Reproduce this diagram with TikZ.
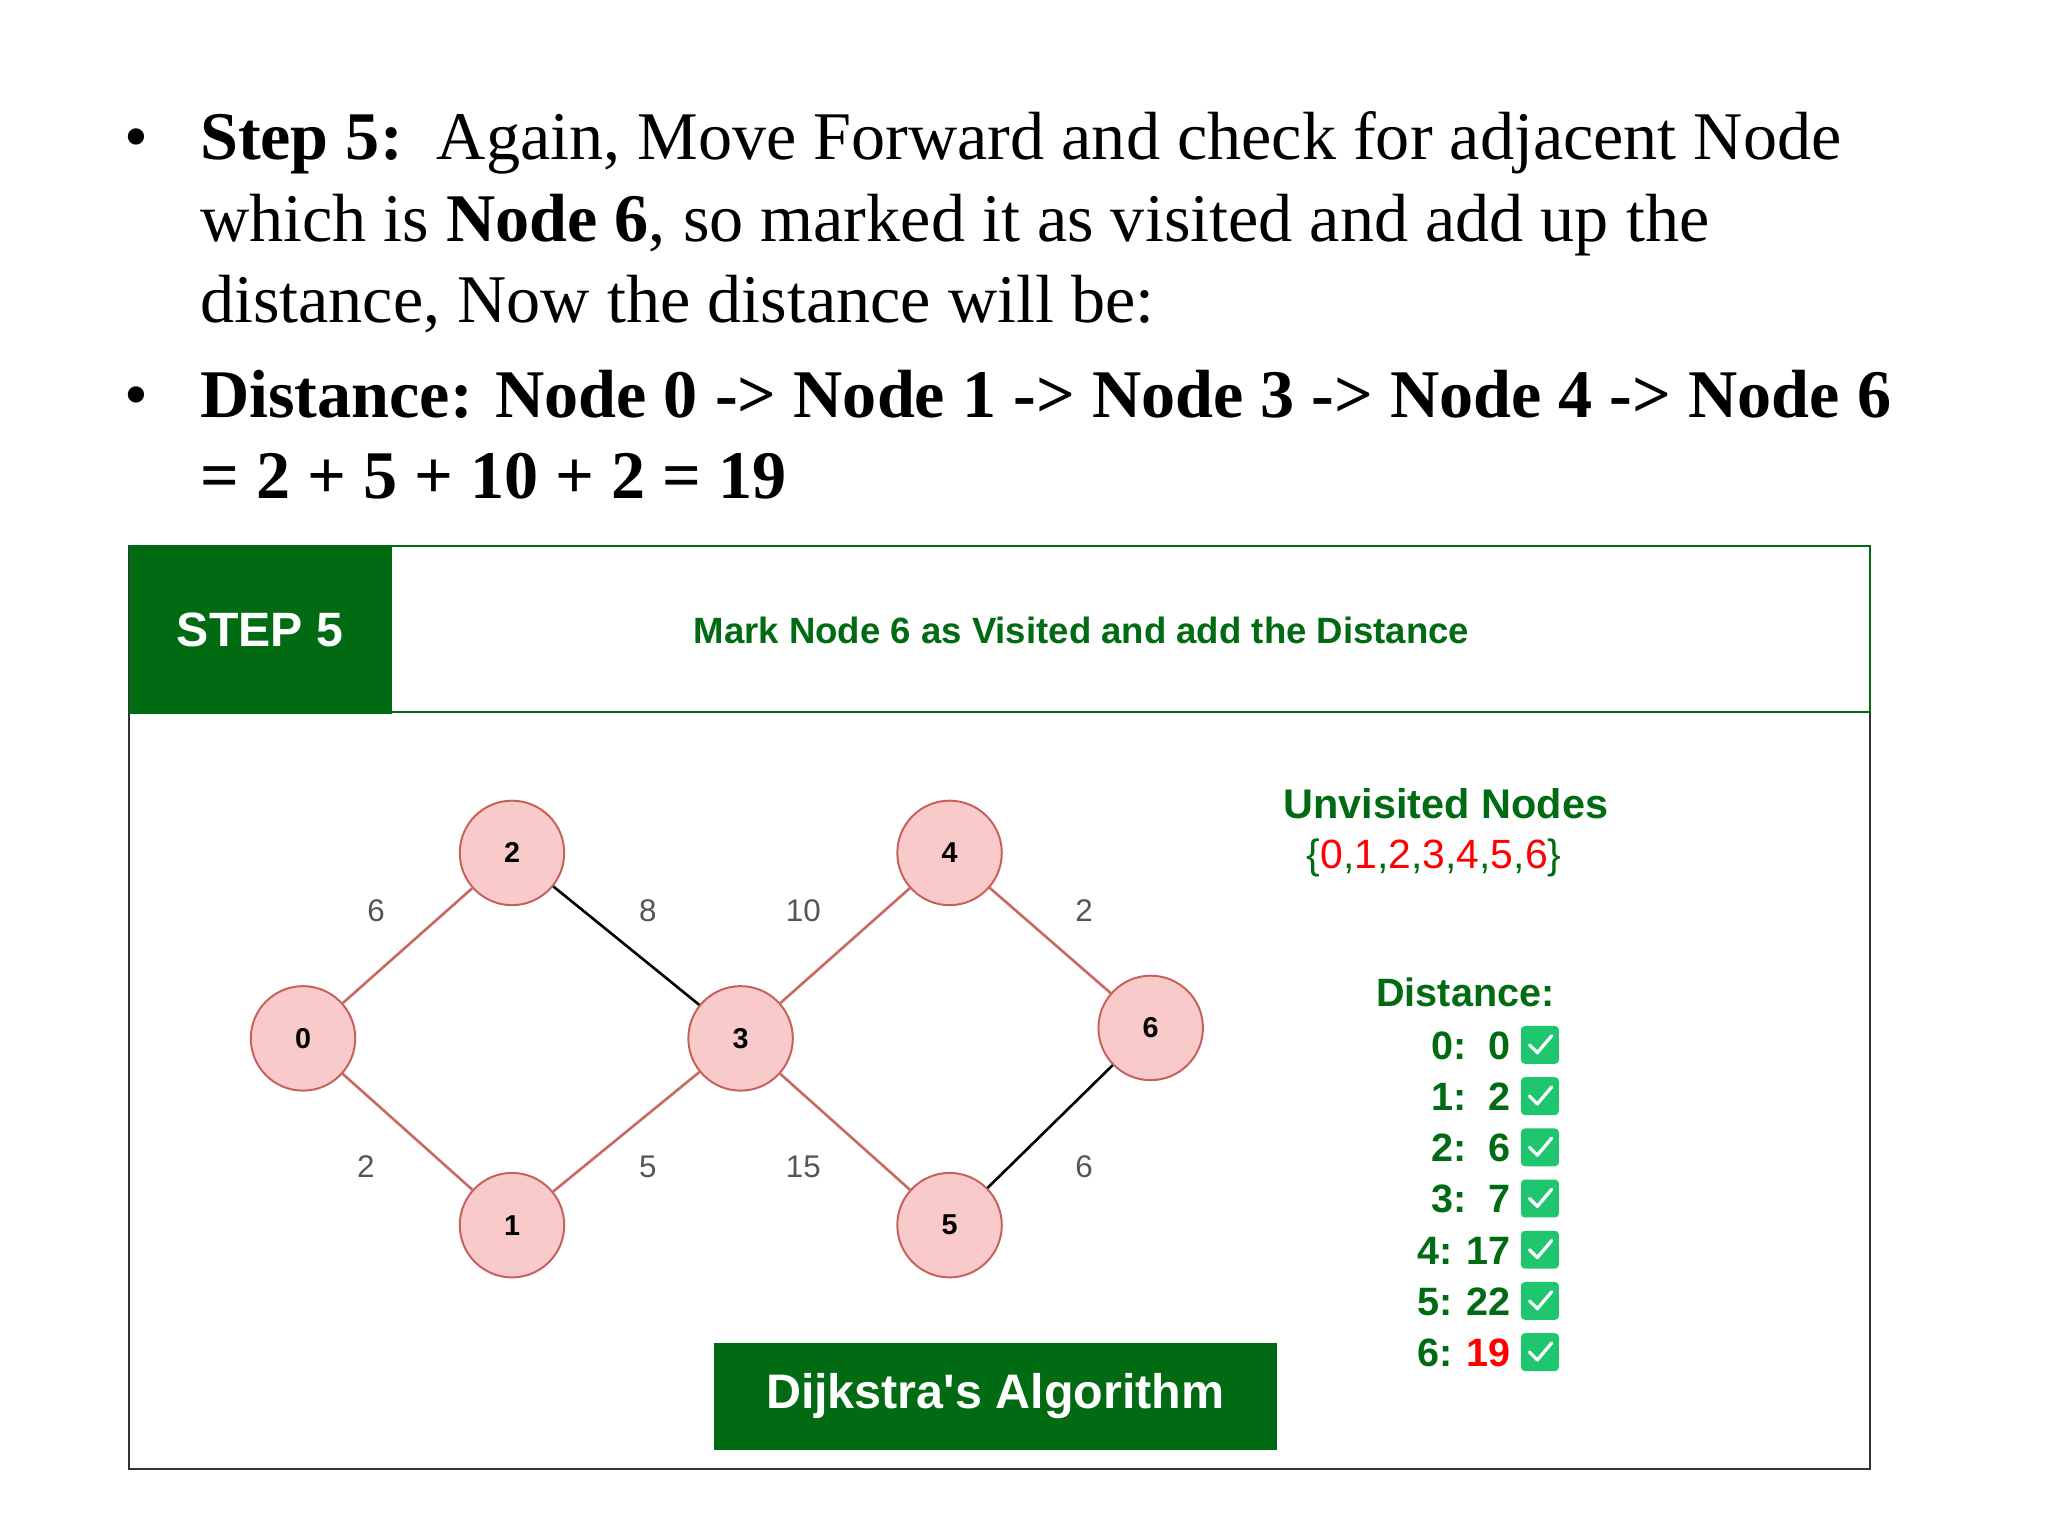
\documentclass[tikz,border=0pt]{standalone}
\usepackage{fontspec}
\setmainfont{Liberation Serif}
\setsansfont{Liberation Sans}
\definecolor{gfg}{HTML}{006B12}
\definecolor{nodefill}{HTML}{F8CACA}
\definecolor{nodeline}{HTML}{C8605A}
\definecolor{edgered}{HTML}{C86A64}
\definecolor{chk}{HTML}{1FC66F}
\definecolor{lab}{HTML}{555555}
\begin{document}
\begin{tikzpicture}[x=1pt,y=-1pt,
  gnode/.style={circle,draw=nodeline,line width=1.5pt,fill=nodefill,minimum size=80pt,inner sep=0pt,font=\sffamily\bfseries\fontsize{22}{24}\selectfont},
  redge/.style={draw=edgered,line width=2pt},
  bedge/.style={draw=black,line width=2pt},
  elab/.style={text=lab,font=\sffamily\fontsize{24}{26}\selectfont},
  body/.style={anchor=base west,font=\fontsize{52.2}{60}\selectfont,inner sep=0pt},
  drow/.style={anchor=base east,text=gfg,font=\sffamily\bfseries\fontsize{30.3}{32}\selectfont,inner sep=0pt},
  chkbox/.style={fill=chk,rounded corners=3pt,minimum size=29pt,inner sep=0pt}]
\useasboundingbox (0,0) rectangle (1568,1176);
\fill[white] (0,0) rectangle (1568,1176);
% text
\node[body] (b1) at (95,122) {\textbullet};
\node[body] (l1) at (153,122) {\textbf{Step 5:}\, Again, Move Forward and check for adjacent Node};
\node[body] (l2) at (153,185) {which is \textbf{Node 6}, so marked it as visited and add up the};
\node[body] (l3) at (153,247) {distance, Now the distance will be:};
\node[body] (b2) at (95,320) {\textbullet};
\node[body] (l4) at (153,320) {\textbf{Distance: Node 0 -> Node 1 -> Node 3 -> Node 4 -> Node 6}};
\node[body] (l5) at (153,382) {\textbf{= 2 + 5 + 10 + 2 = 19}};
% panel
\draw[black!80,line width=1.5pt] (99,418) rectangle (1432,1125);
\draw[gfg,line width=1.5pt] (99,418) -- (1432,418) (99,545) -- (1432,545) (1432,418)--(1432,545);
\fill[gfg] (99,418) rectangle (300,547);
\node[text=white,font=\sffamily\bfseries\fontsize{36.9}{40}\selectfont] (st) at (199,482) {STEP 5};
\node[text=gfg,font=\sffamily\bfseries\fontsize{28}{30}\selectfont] (tt) at (828,483) {Mark Node 6 as Visited and add the Distance};
% graph
\node[gnode] (n0) at (232,795) {0};
\node[gnode] (n2) at (392,653) {2};
\node[gnode] (n1) at (392,938) {1};
\node[gnode] (n3) at (567,795) {3};
\node[gnode] (n4) at (727,653) {4};
\node[gnode] (n5) at (727,938) {5};
\node[gnode] (n6) at (881,787) {6};
\draw[redge] (n0) -- (n2);
\draw[bedge] (n2) -- (n3);
\draw[redge] (n0) -- (n1);
\draw[redge] (n1) -- (n3);
\draw[redge] (n3) -- (n4);
\draw[redge] (n3) -- (n5);
\draw[redge] (n4) -- (n6);
\draw[bedge] (n5) -- (n6);
\node[elab] (e1) at (288,697) {6};
\node[elab] (e2) at (496,697) {8};
\node[elab] (e3) at (615,697) {10};
\node[elab] (e4) at (830,697) {2};
\node[elab] (e5) at (280,893) {2};
\node[elab] (e6) at (496,893) {5};
\node[elab] (e7) at (615,893) {15};
\node[elab] (e8) at (830,893) {6};
% right panel
\node[text=gfg,font=\sffamily\bfseries\fontsize{31.7}{33}\selectfont] (un) at (1107,615) {Unvisited Nodes};
\node[font=\sffamily\fontsize{31.3}{33}\selectfont] (us) at (1098,657) {\color{gfg}\{\color{red}0\color{gfg},\color{red}1\color{gfg},\color{red}2\color{gfg},\color{red}3\color{gfg},\color{red}4\color{gfg},\color{red}5\color{gfg},\color{red}6\color{gfg}\}};
\node[text=gfg,font=\sffamily\bfseries\fontsize{30.3}{32}\selectfont] (dh) at (1122,760) {Distance:};
\foreach \t [count=\k from 0] in {0:\ \ 0,1:\ \ 2,2:\ \ 6,3:\ \ 7,4: 17,5: 22,6: \textcolor{red}{19}}{
  \node[drow] (r\k) at (1157,{811+39.2*\k}) {\t};
  \node[chkbox] (c\k) at (1179,{800+39.2*\k}) {};
  \draw[white,line width=2.5pt,line cap=round,line join=round] ([xshift=-8pt,yshift=0pt]c\k.center) -- ([xshift=-2pt,yshift=-6pt]c\k.center) -- ([xshift=9pt,yshift=7pt]c\k.center);
}
% button
\fill[gfg] (547,1028) rectangle (978,1110);
\node[text=white,font=\sffamily\bfseries\fontsize{37.1}{40}\selectfont] (bt) at (762,1069) {Dijkstra\textquotesingle s Algorithm};
\end{tikzpicture}
\end{document}
